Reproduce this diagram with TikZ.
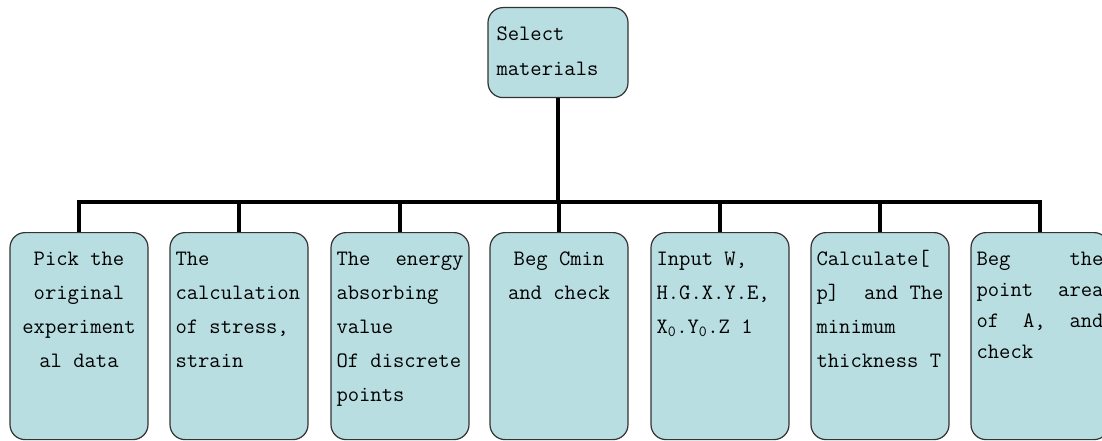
\documentclass[tikz,border=0pt]{standalone}
\definecolor{paleblue}{RGB}{184,222,226}
\newcommand\leaftext[2]{\parbox[t][207pt][t]{127pt}{#1\rule{0pt}{33pt}#2}}
\tikzset{
  card/.style={draw=black!80, line width=1.2pt, fill=paleblue, rounded corners=15pt,
    inner xsep=5.5pt, inner ysep=0pt, anchor=north,
    font=\ttfamily\fontsize{22}{34}\selectfont},
  wire/.style={line width=3.6pt, line join=miter}
}

\begin{document}
\begin{tikzpicture}[x=1pt,y=-1pt]
  \useasboundingbox (0,0) rectangle (1102,441);
  \clip (0,0) rectangle (1102,441);
  \coordinate (bar) at (558,202);

  \node[card] (top) at (558,7)
    {\parbox[t][90pt][t]{129pt}{\baselineskip=35pt\hspace*{3pt}\rule{0pt}{33pt}Select\\\hspace*{3pt}materials}};
  \draw[wire] (top.south) -- (top.south |- bar);

  \foreach \n/\x/\txt in {
    1/79/{\leaftext{\centering}{Pick~the\\original\\experiment\\al~data}},
    2/239/{\leaftext{}{The\\calculation\\of~stress,\\strain}},
    3/400/{\leaftext{}{The\hfill energy\\absorbing\\value\\Of~discrete\\points}},
    4/559/{\leaftext{\centering}{Beg~Cmin\\and~check}},
    5/720/{\leaftext{}{Input~W,\\H.G.X.Y.E,\\X\textsubscript{0}.Y\textsubscript{0}.Z~1}},
    6/880/{\leaftext{}{Calculate[\\p]\hfill and~The\\minimum\\thickness~T}},
    7/1040/{\leaftext{\baselineskip=31pt}{Beg\hfill the\\point\hfill area\\of\hfill A,\hfill and\\check}}
  } {
    \node[card] (b\n) at (\x,232) {\txt};
    \draw[wire] (b\n.north) -- (b\n.north |- bar);
  }
  \draw[wire, line cap=rect] (b1.north |- bar) -- (b7.north |- bar);
\end{tikzpicture}
\end{document}
